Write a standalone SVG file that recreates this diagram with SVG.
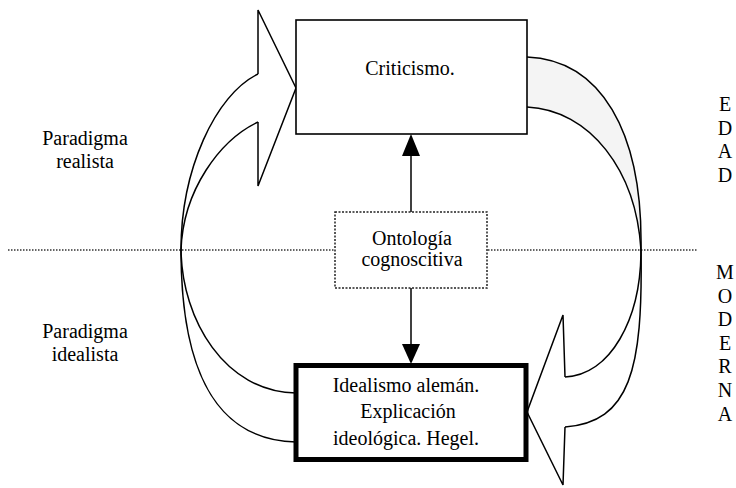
<svg xmlns="http://www.w3.org/2000/svg" width="736" height="488" viewBox="0 0 736 488">
<style>
.t{font-size:20px;fill:#000;text-anchor:middle}
.c{fill:none;stroke:#000;stroke-width:1.5;stroke-linejoin:miter}
.dot{fill:none;stroke:#333;stroke-width:1.3;stroke-dasharray:1.5 1.5}
</style>
<rect width="736" height="488" fill="#fff"/>
<line class="dot" x1="8" y1="250" x2="698" y2="250"/>
<g id="connectors">
  <path d="M527,57 C600,60 643,130 641,250 C636,170 590,110 527,107 Z" fill="#f4f4f4" stroke="none"/>
  <path class="c" d="M258,74 C215,95 181,170 181,250 C181,370 215,440 296,442"/>
  <path class="c" d="M258,122 C220,140 183,190 181,250 C182,320 225,392 296,393"/>
  <path class="c" d="M258,74 L258,10 L296,88 L258,186 L258,122"/>
  <path class="c" d="M527,57 C600,60 643,130 641,250 C643,370 630,422 565,427"/>
  <path class="c" d="M527,107 C590,110 636,170 641,250 C641,320 610,375 565,377"/>
  <path class="c" d="M565,377 L563,315 L527,412 L563,485 L565,427"/>
  <line x1="411" y1="212" x2="411" y2="152" stroke="#000" stroke-width="1.5"/>
  <polygon points="411,134 402,156 420,156" fill="#000"/>
  <line x1="411" y1="288" x2="411" y2="348" stroke="#000" stroke-width="1.5"/>
  <polygon points="411,364 402,344 420,344" fill="#000"/>
</g>
<g font-family="'Liberation Serif', 'DejaVu Serif', 'Times New Roman', serif">
<g id="criticismo">
  <rect x="296" y="20" width="231" height="114" fill="#fff" stroke="#000" stroke-width="1.6"/>
  <text class="t" x="410" y="75">Criticismo.</text>
</g>
<g id="ontologia">
  <rect x="335" y="212" width="152" height="76" fill="#fff" stroke="#222" stroke-width="1.5" stroke-dasharray="2 1.5"/>
  <text class="t" x="412" y="245">Ontología</text>
  <text class="t" x="412" y="266">cognoscitiva</text>
</g>
<g id="idealismo">
  <rect x="296" y="365.5" width="230" height="94" fill="#fff" stroke="#000" stroke-width="5"/>
  <text class="t" x="406" y="392">Idealismo alemán.</text>
  <text class="t" x="408" y="418">Explicación</text>
  <text class="t" x="406" y="445">ideológica. Hegel.</text>
</g>
<g id="paradigma-realista">
  <text class="t" x="85" y="145">Paradigma</text>
  <text class="t" x="85" y="168">realista</text>
</g>
<g id="paradigma-idealista">
  <text class="t" x="85" y="338">Paradigma</text>
  <text class="t" x="85" y="361">idealista</text>
</g>
<g id="edad-moderna">
  <text class="t" x="725" y="111">E</text>
  <text class="t" x="725" y="135">D</text>
  <text class="t" x="725" y="158">A</text>
  <text class="t" x="725" y="182">D</text>
  <text class="t" x="725" y="279">M</text>
  <text class="t" x="725" y="303">O</text>
  <text class="t" x="725" y="326">D</text>
  <text class="t" x="725" y="350">E</text>
  <text class="t" x="725" y="373">R</text>
  <text class="t" x="725" y="397">N</text>
  <text class="t" x="725" y="421">A</text>
</g>
</g>
</svg>
